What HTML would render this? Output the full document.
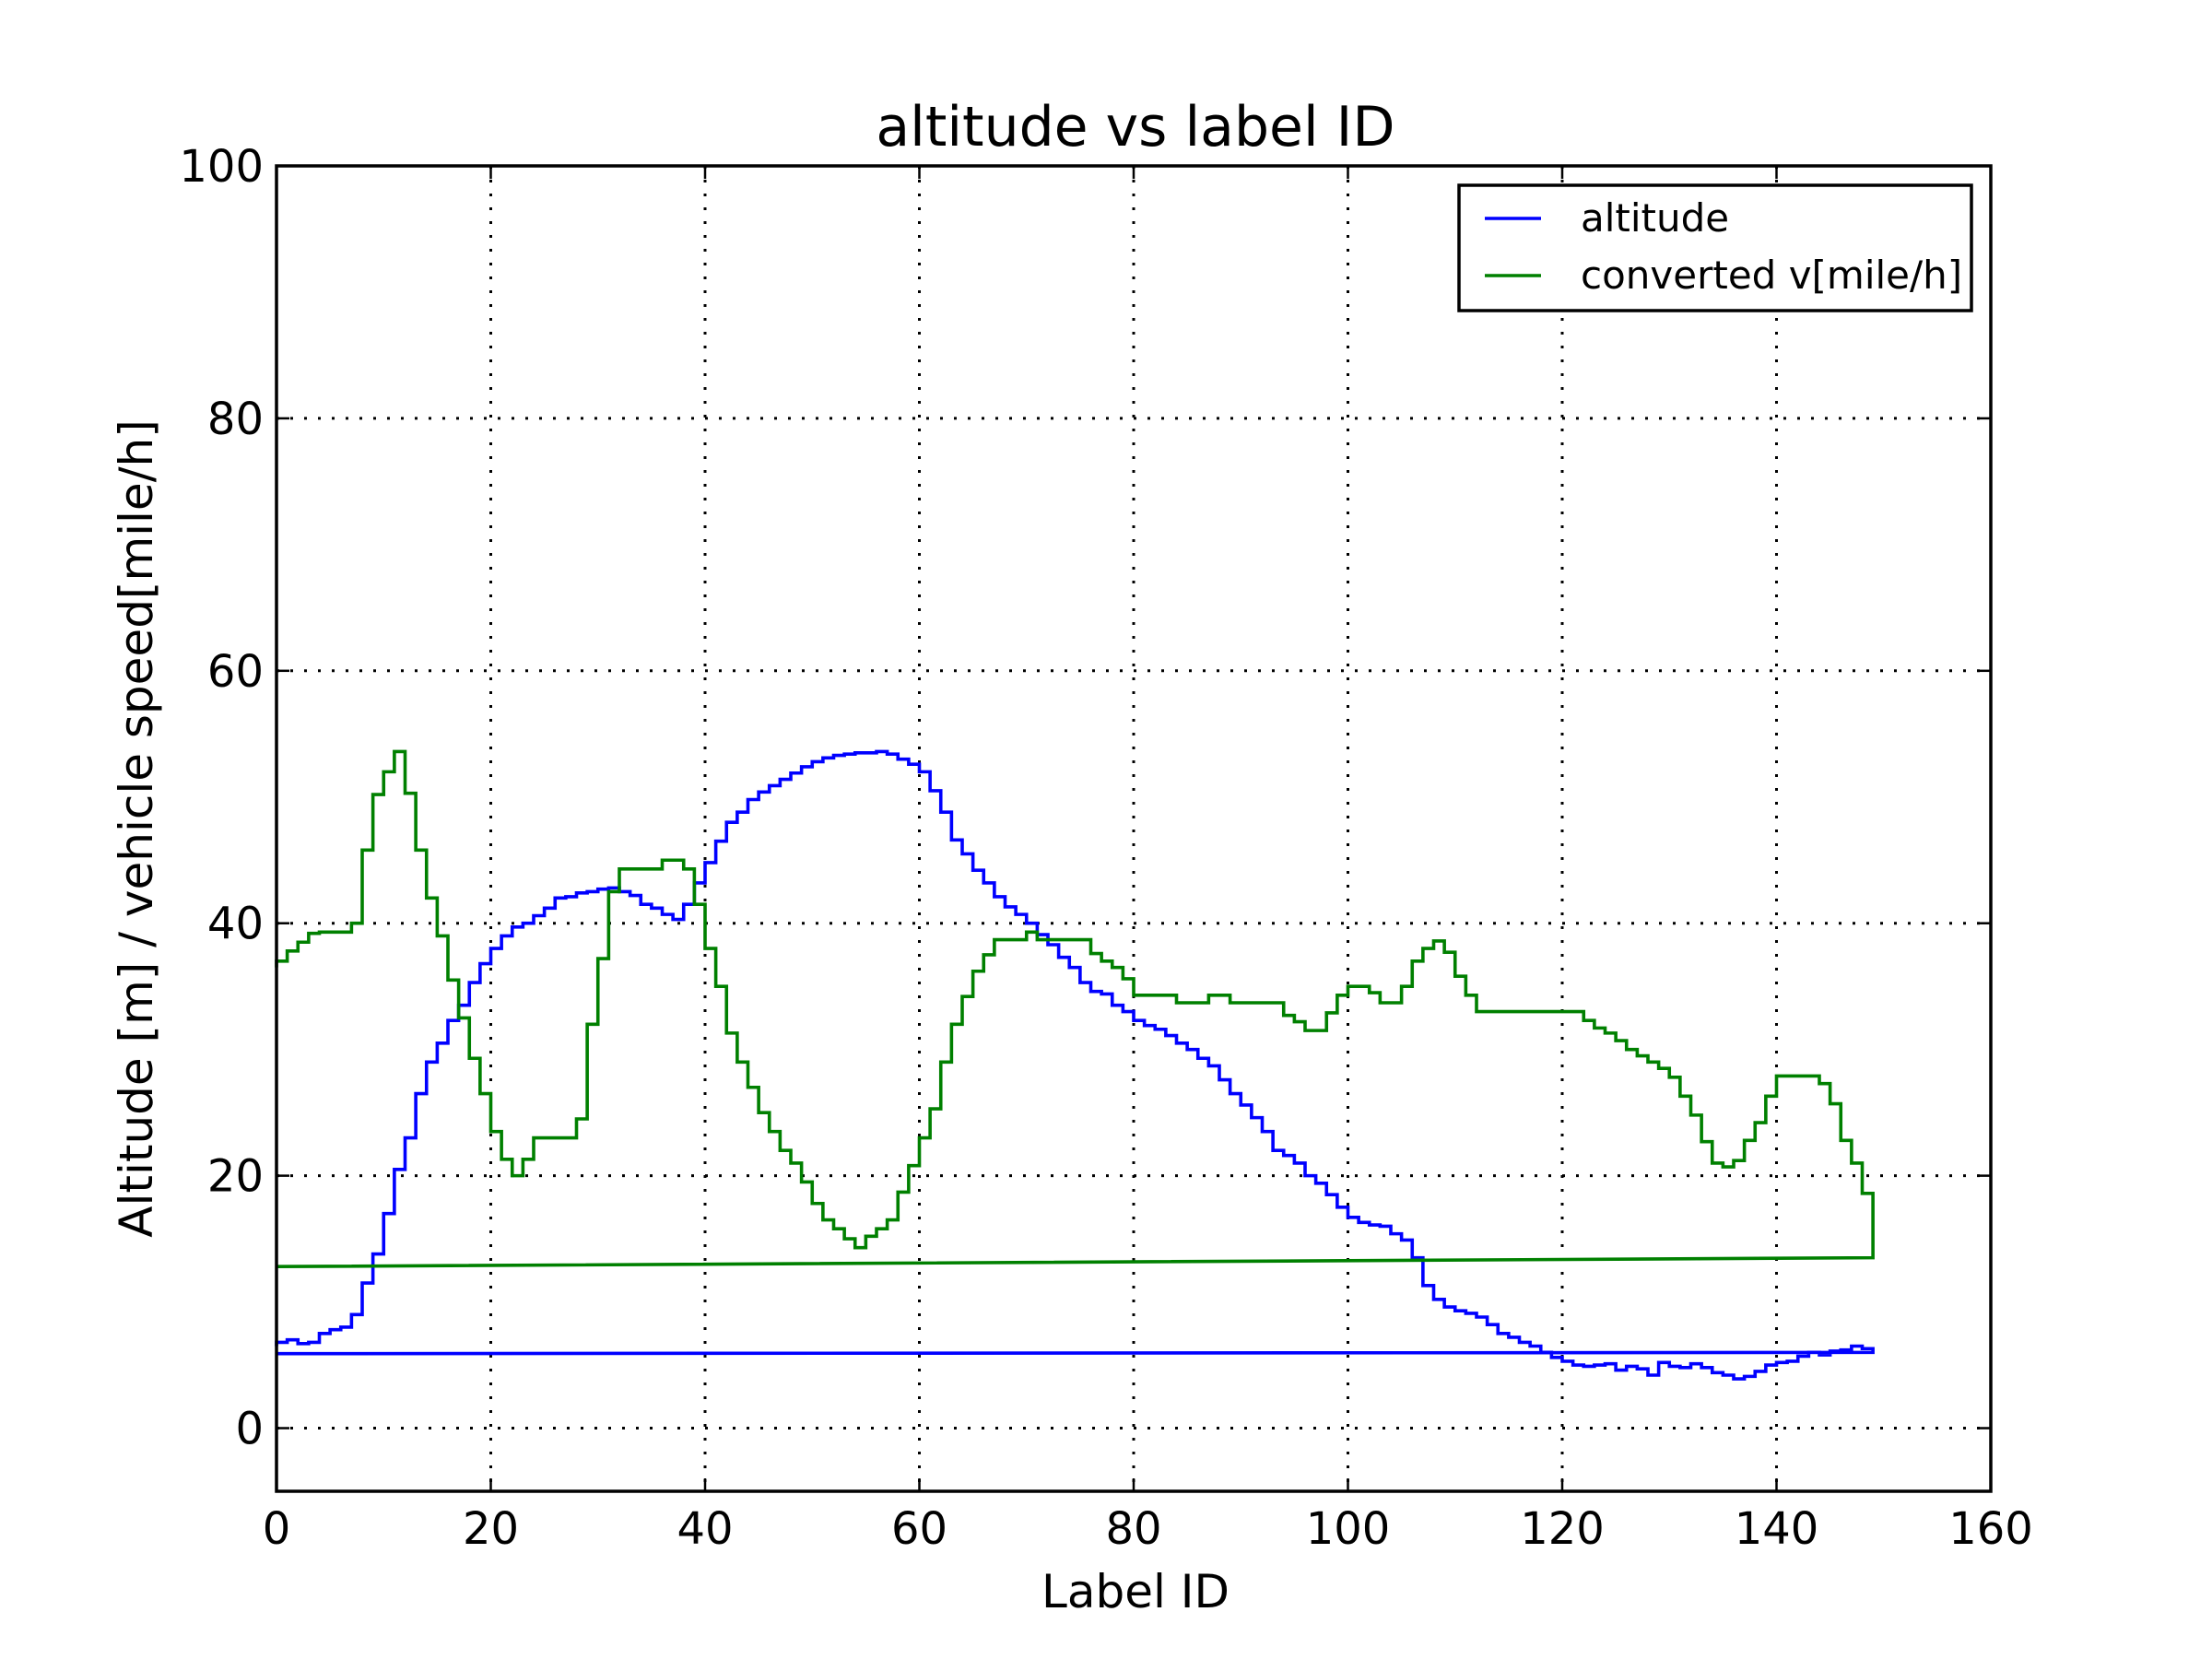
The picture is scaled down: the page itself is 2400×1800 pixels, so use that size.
<!DOCTYPE html>
<html><head><meta charset="utf-8"><style>
html,body{margin:0;padding:0;background:#fff;}
svg{display:block;font-family:"DejaVu Sans","Liberation Sans",sans-serif;}
</style></head><body>
<svg id="chart" width="2400" height="1800" viewBox="0 0 2400 1800" xmlns="http://www.w3.org/2000/svg">
<rect width="2400" height="1800" fill="#fff"/>
<text x="1232" y="158" font-size="60" text-anchor="middle">altitude vs label ID</text>
<g id="grid"></g>
<g id="series"></g>
<rect x="300" y="180" width="1860" height="1438" fill="none" stroke="#000" stroke-width="3.5"/>
<g id="ticks"></g>
<text x="1232" y="1744" font-size="50" text-anchor="middle">Label ID</text>
<text x="0" y="0" font-size="50" text-anchor="middle" transform="translate(165,899) rotate(-90)">Altitude [m] / vehicle speed[mile/h]</text>
<g>
<rect x="1583" y="201" width="556" height="136" fill="#fff" stroke="#000" stroke-width="3.5"/>
<line x1="1611" y1="237" x2="1672" y2="237" stroke="#0000ff" stroke-width="3.5"/>
<text x="1715" y="251" font-size="42">altitude</text>
<line x1="1611" y1="299" x2="1672" y2="299" stroke="#008000" stroke-width="3.5"/>
<text x="1715" y="313" font-size="42">converted v[mile/h]</text>
</g>
</svg>
<script>
const xTicks=[0,20,40,60,80,100,120,140,160];
const yTicks=[0,20,40,60,80,100];
const altitude=[6.5,6.8,7,6.7,6.8,7.5,7.8,8,9,11.5,13.8,17,20.5,23,26.5,29,30.5,32.3,33.5,35.3,36.8,38,39,39.7,40,40.6,41.2,42,42.1,42.4,42.5,42.7,42.8,42.5,42.2,41.5,41.2,40.7,40.3,41.5,43.2,44.8,46.5,48,48.8,49.8,50.4,50.9,51.4,51.9,52.4,52.8,53.1,53.3,53.4,53.5,53.5,53.6,53.4,53,52.6,52,50.5,48.8,46.6,45.5,44.2,43.2,42.1,41.3,40.7,40,39.1,38.3,37.3,36.5,35.3,34.6,34.4,33.5,33,32.3,31.9,31.6,31.1,30.5,30,29.3,28.7,27.6,26.5,25.6,24.6,23.5,22,21.6,21,20,19.4,18.5,17.5,16.7,16.3,16.1,16,15.4,14.9,13.5,11.3,10.2,9.6,9.3,9.1,8.8,8.2,7.5,7.2,6.8,6.5,6,5.6,5.3,5,4.9,5,5.1,4.6,4.9,4.7,4.2,5.2,4.9,4.8,5.1,4.8,4.4,4.2,3.9,4.1,4.5,5,5.2,5.3,5.7,6,5.8,6.1,6.2,6.5,6.3];
const altitudeClose=[6.0,5.9];
const speed=[36.5,37,37.8,38.5,39.2,39.3,39.3,39.3,40,45.8,50.2,52,53.6,50.3,45.8,42,39,35.5,32.5,29.3,26.5,23.5,21.3,20,21.3,23,23,23,23,24.5,32,37.2,42.5,44.3,44.3,44.3,44.3,45,45,44.3,41.5,38,35,31.3,29,27,25,23.5,22,21,19.5,17.8,16.5,15.8,15,14.3,15.2,15.8,16.5,18.7,20.8,23,25.3,29,32,34.2,36.2,37.5,38.7,38.7,38.7,39.3,38.7,38.7,38.7,38.7,38.7,37.6,37,36.5,35.6,34.3,34.3,34.3,34.3,33.7,33.7,33.7,34.3,34.3,33.7,33.7,33.7,33.7,33.7,32.7,32.2,31.5,31.5,32.9,34.3,35,35,34.5,33.7,33.7,35,37,38,38.6,37.7,35.8,34.3,33,33,33,33,33,33,33,33,33,33,32.3,31.7,31.3,30.7,30,29.5,29,28.5,27.8,26.3,24.8,22.7,21,20.7,21.2,22.8,24.2,26.3,27.9,27.9,27.9,27.9,27.3,25.7,22.8,21,18.6];
const speedClose=[13.5,12.8];

const NS="http://www.w3.org/2000/svg";
const X0=300,X1=2160,Y0=1618,Y1=180,XMIN=0,XMAX=160,YMIN=-5,YMAX=100;
function sx(v){return X0+(v-XMIN)/(XMAX-XMIN)*(X1-X0);}
function sy(v){return Y0-(v-YMIN)/(YMAX-YMIN)*(Y0-Y1);}
function mk(tag,attrs,parent){const e=document.createElementNS(NS,tag);for(const k in attrs)e.setAttribute(k,attrs[k]);parent.appendChild(e);return e;}
const grid=document.getElementById('grid'),ticks=document.getElementById('ticks'),series=document.getElementById('series');
xTicks.forEach(t=>{
  const x=sx(t);
  if(t>XMIN&&t<XMAX){const g=mk('line',{x1:x,y1:Y1,x2:x,y2:Y0,stroke:'#000','stroke-width':3,'stroke-dasharray':'3,12'},grid);
  
  }
  const tk=mk('line',{x1:x,y1:Y0,x2:x,y2:Y0-14,stroke:'#000','stroke-width':2.5},ticks);
  
  
  const tk2=mk('line',{x1:x,y1:Y1,x2:x,y2:Y1+14,stroke:'#000','stroke-width':2.5},ticks);
  
  
  const lb=mk('text',{x:x,y:1675,'font-size':48,'text-anchor':'middle'},ticks);
  lb.textContent=t;
  
  
});
yTicks.forEach(t=>{
  const y=sy(t);
  if(t<YMAX){const g=mk('line',{x1:X0,y1:y,x2:X1,y2:y,stroke:'#000','stroke-width':3,'stroke-dasharray':'3,12'},grid);
  
  }
  const tk=mk('line',{x1:X0,y1:y,x2:X0+14,y2:y,stroke:'#000','stroke-width':2.5},ticks);
  
  
  const tk2=mk('line',{x1:X1,y1:y,x2:X1-14,y2:y,stroke:'#000','stroke-width':2.5},ticks);
  
  
  const lb=mk('text',{x:286,y:y+17,'font-size':48,'text-anchor':'end'},ticks);
  lb.textContent=t;
  
  
});
function stepPath(vals,close){
  let d='M'+sx(0)+','+sy(vals[0]);
  for(let i=1;i<vals.length;i++){d+=' L'+sx(i-1)+','+sy(vals[i])+' L'+sx(i)+','+sy(vals[i]);}
  const last=vals.length-1;
  d+=' L'+sx(last)+','+sy(close[0])+' L'+sx(0)+','+sy(close[1]);
  return d;
}
const pa=mk('path',{d:stepPath(altitude,altitudeClose),fill:'none',stroke:'#0000ff','stroke-width':3.6,'stroke-linejoin':'miter'},series);


const ps=mk('path',{d:stepPath(speed,speedClose),fill:'none',stroke:'#008000','stroke-width':3.6,'stroke-linejoin':'miter'},series);


</script>
</body></html>
